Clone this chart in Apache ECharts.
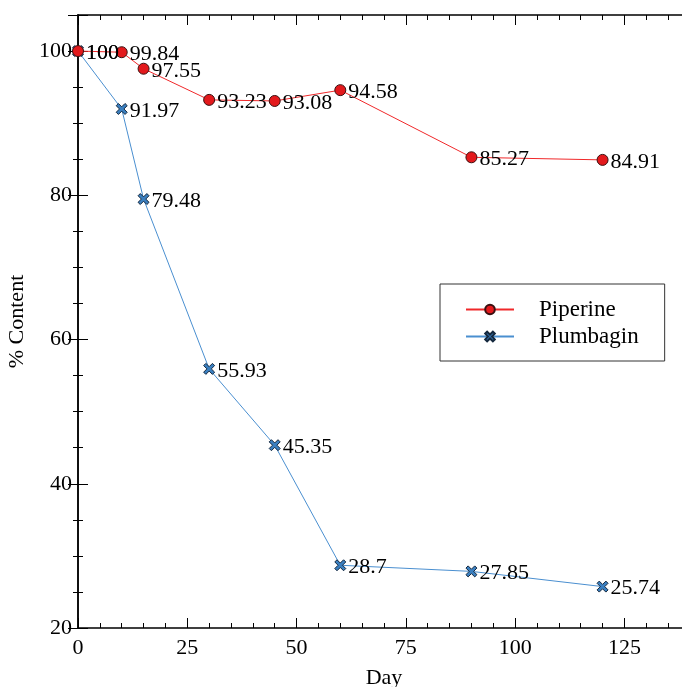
<!DOCTYPE html>
<html><head><meta charset="utf-8">
<script src="https://cdn.jsdelivr.net/npm/echarts@6/dist/echarts.min.js"></script>
<style>html,body{margin:0;padding:0;background:#fff}#c{width:682px;height:687px}</style>
</head><body><div id="c"></div>
<script>
const days = [0, 10, 15, 30, 45, 60, 90, 120];
const piperine = [100, 99.84, 97.55, 93.23, 93.08, 94.58, 85.27, 84.91];
const plumbagin = [100, 91.97, 79.48, 55.93, 45.35, 28.7, 27.85, 25.74];
const pipLabels = ['100', '99.84', '97.55', '93.23', '93.08', '94.58', '85.27', '84.91'];
const plumLabels = ['100', '91.97', '79.48', '55.93', '45.35', '28.7', '27.85', '25.74'];
const seriesNames = ['Piperine', 'Plumbagin'];

const FONT = 'Liberation Serif';
const xSym = 'path://M2,0 L5,3 L8,0 L10,2 L7,5 L10,8 L8,10 L5,7 L2,10 L0,8 L3,5 L0,2 Z';
const chart = echarts.init(document.getElementById('c'));
const axLine = {show: true, lineStyle: {color: '#000', width: 1.5}};
const axTick = {show: true, inside: true, length: 10, lineStyle: {color: '#000', width: 1}};
const minor = n => ({show: true, splitNumber: n, length: 5, lineStyle: {color: '#000', width: 1}});
chart.setOption({
  animation: false,
  textStyle: {fontFamily: FONT},
  grid: {left: 78, top: 15, bottom: 59, right: -8, outerBoundsMode: 'none', containLabel: false},
  legend: {
    orient: 'vertical', left: 440, top: 284,
    data: seriesNames,
    itemWidth: 48, itemHeight: 12, itemGap: 4,
    padding: [14, 26, 13, 25],
    borderColor: '#333', borderWidth: 1,
    textStyle: {fontFamily: FONT, fontSize: 23, color: '#000', padding: [0, 0, 0, 20]}
  },
  xAxis: [
    {type: 'value', min: 0, max: 140, interval: 25, position: 'bottom',
      name: 'Day', nameLocation: 'middle', nameGap: 39,
      nameTextStyle: {fontFamily: FONT, fontSize: 22, color: '#000'},
      axisLine: axLine, axisTick: axTick, minorTick: minor(5), splitLine: {show: false},
      axisLabel: {fontFamily: FONT, fontSize: 22, color: '#000', margin: 9, showMaxLabel: false}},
    {type: 'value', min: 0, max: 140, interval: 25, position: 'top',
      axisLine: axLine, axisTick: axTick, minorTick: minor(5), splitLine: {show: false},
      axisLabel: {show: false}}
  ],
  yAxis: [
    {type: 'value', min: 20, max: 105, interval: 20, position: 'left',
      name: '% Content', nameLocation: 'middle', nameGap: 40, nameRotate: 90,
      nameTextStyle: {fontFamily: FONT, fontSize: 22, color: '#000'},
      axisLine: axLine, axisTick: axTick, minorTick: minor(4), splitLine: {show: false},
      axisLabel: {fontFamily: FONT, fontSize: 22, color: '#000', margin: 6, showMaxLabel: false}},
    {type: 'value', min: 20, max: 105, interval: 20, position: 'right',
      axisLine: axLine, axisTick: axTick, minorTick: minor(4), splitLine: {show: false},
      axisLabel: {show: false}}
  ],
  series: [
    {name: seriesNames[0], type: 'line', xAxisIndex: 0, yAxisIndex: 0,
      data: days.map((d, i) => [d, piperine[i]]),
      symbol: 'circle', symbolSize: 11,
      lineStyle: {color: '#f0282a', width: 1},
      itemStyle: {color: '#e3191c', borderColor: '#3a1010', borderWidth: 1},
      label: {show: true, position: 'right', distance: 2, offset: [0, 2], fontFamily: FONT, fontSize: 22, color: '#000',
        formatter: p => pipLabels[p.dataIndex]},
      z: 3},
    {name: seriesNames[1], type: 'line', xAxisIndex: 0, yAxisIndex: 0,
      data: days.map((d, i) => [d, plumbagin[i]]),
      symbol: xSym, symbolSize: 11,
      lineStyle: {color: '#4a8fd0', width: 1},
      itemStyle: {color: '#3a7fc0', borderColor: '#14283e', borderWidth: 1},
      label: {show: true, position: 'right', distance: 2, offset: [0, 2], fontFamily: FONT, fontSize: 22, color: '#000',
        formatter: p => plumLabels[p.dataIndex]},
      z: 2}
  ]
});
</script></body></html>
